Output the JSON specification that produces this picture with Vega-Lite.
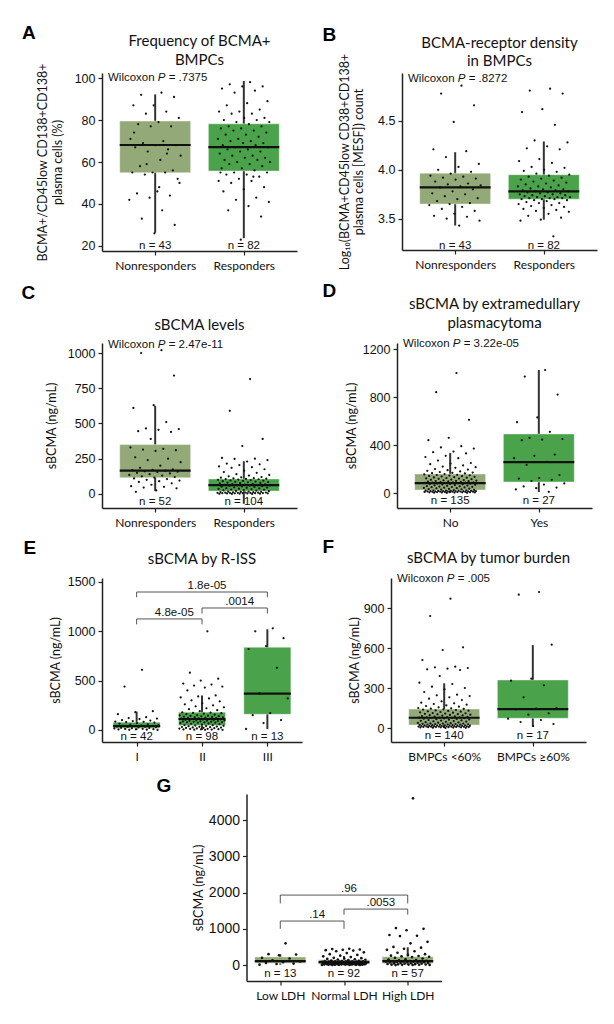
{
  "$schema": "https://vega.github.io/schema/vega-lite/v6.json",
  "background": "white",
  "padding": {"left": 21, "top": 24, "right": 5, "bottom": 5},
  "resolve": {"scale": {"color": "independent", "x": "independent", "y": "independent"}},
  "spacing": 9,
  "vconcat": [
    {
      "spacing": 11,
      "resolve": {"scale": {"color": "independent", "x": "independent", "y": "independent"}},
      "vconcat": [
        {
          "spacing": 25,
          "resolve": {"scale": {"color": "independent", "x": "independent", "y": "independent"}},
          "hconcat": [
            {
              "title": {"text": "A", "orient": "left", "anchor": "end", "angle": 0, "align": "left", "baseline": "top", "frame": "bounds", "offset": 0, "dx": -1, "dy": -10, "font": "Liberation Sans", "fontSize": 19, "fontWeight": "bold", "color": "#000"},
              "vconcat": [
                {
                  "width": 195, "height": 178,
                  "title": {"text": ["Frequency of BCMA+", "BMPCs"], "offset": -5},
                  "layer": [
                    {"data": {"name": "ba"},
                     "transform": [{"calculate": "indexof(['Nonresponders','Responders'], datum.g) + 1", "as": "i"}, {"calculate": "datum.i - 0.4", "as": "x1"}, {"calculate": "datum.i + 0.4", "as": "x2"}],
                     "layer": [
                       {"mark": {"type": "rule", "color": "#333", "strokeWidth": 2},
                        "encoding": {"x": {"field": "i", "type": "quantitative", "scale": {"domain": [0.4, 2.6], "nice": false, "zero": false}, "axis": {"values": [1, 2], "labelExpr": "['Nonresponders','Responders'][datum.value - 1]"}, "title": null},
                                     "y": {"field": "lo", "type": "quantitative", "scale": {"domain": [17.6, 102.4], "nice": false, "zero": false}, "axis": {"values": [20, 40, 60, 80, 100], "titlePadding": 10}, "title": ["BCMA+/CD45low CD138+CD138+", "plasma cells (%)"]},
                                     "y2": {"field": "hi"}}},
                       {"mark": {"type": "rect", "stroke": "#fff", "strokeOpacity": 0.4, "strokeWidth": 1},
                        "encoding": {"x": {"field": "x1", "type": "quantitative"}, "x2": {"field": "x2"}, "y": {"field": "q1", "type": "quantitative"}, "y2": {"field": "q3"},
                                     "color": {"field": "g", "type": "nominal", "scale": {"domain": ["Nonresponders", "Responders"], "range": ["#93aa78", "#4aa24a"]}, "legend": null}}},
                       {"mark": {"type": "rule", "color": "#111", "strokeWidth": 2.2},
                        "encoding": {"x": {"field": "x1", "type": "quantitative"}, "x2": {"field": "x2"}, "y": {"field": "med", "type": "quantitative"}}},
                       {"mark": {"type": "text", "font": "Liberation Sans", "fontSize": 11.5, "baseline": "middle", "color": "#111"},
                        "encoding": {"x": {"field": "i", "type": "quantitative"}, "y": {"datum": 20}, "text": {"field": "n"}}}
                     ]},
                    {"data": {"name": "pa"},
                     "transform": [{"window": [{"op": "row_number", "as": "r"}], "groupby": ["g"]}, {"calculate": "indexof(['Nonresponders','Responders'], datum.g) + 1 + ((datum.r * 0.618034) % 1 - 0.5) * 0.6", "as": "x"}],
                     "mark": {"type": "circle", "size": 5, "color": "#111", "opacity": 1},
                     "encoding": {"x": {"field": "x", "type": "quantitative"}, "y": {"field": "v", "type": "quantitative"}}},
                    {"data": {"values": [{}]}, "mark": {"type": "text", "text": "Wilcoxon", "align": "left", "baseline": "middle", "dx": 6, "font": "Liberation Sans", "fontSize": 11.5, "color": "#111"}, "encoding": {"x": {"datum": 0.4}, "y": {"datum": 100}}},
                    {"data": {"values": [{}]}, "mark": {"type": "text", "text": "P", "fontStyle": "italic", "align": "left", "baseline": "middle", "dx": 55.8, "font": "Liberation Sans", "fontSize": 11.5, "color": "#111"}, "encoding": {"x": {"datum": 0.4}, "y": {"datum": 100}}},
                    {"data": {"values": [{}]}, "mark": {"type": "text", "text": "= .7375", "align": "left", "baseline": "middle", "dx": 66.7, "font": "Liberation Sans", "fontSize": 11.5, "color": "#111"}, "encoding": {"x": {"datum": 0.4}, "y": {"datum": 100}}}
                  ]
                }
              ]
            },
            {
              "title": {"text": "B", "orient": "left", "anchor": "end", "angle": 0, "align": "left", "baseline": "top", "frame": "bounds", "offset": 0, "dx": -2, "dy": -10, "font": "Liberation Sans", "fontSize": 19, "fontWeight": "bold", "color": "#000"},
              "vconcat": [
                {
                  "width": 195, "height": 177,
                  "title": {"text": ["BCMA-receptor density", "in BMPCs"], "offset": -16},
                  "layer": [
                    {"data": {"name": "bb"},
                     "transform": [{"calculate": "indexof(['Nonresponders','Responders'], datum.g) + 1", "as": "i"}, {"calculate": "datum.i - 0.4", "as": "x1"}, {"calculate": "datum.i + 0.4", "as": "x2"}],
                     "layer": [
                       {"mark": {"type": "rule", "color": "#333", "strokeWidth": 2},
                        "encoding": {"x": {"field": "i", "type": "quantitative", "scale": {"domain": [0.4, 2.6], "nice": false, "zero": false}, "axis": {"values": [1, 2], "labelExpr": "['Nonresponders','Responders'][datum.value - 1]"}, "title": null},
                                     "y": {"field": "lo", "type": "quantitative", "scale": {"domain": [3.18, 4.99], "nice": false, "zero": false}, "axis": {"values": [3.5, 4.0, 4.5], "format": ".1f", "titlePadding": 12}, "title": ["Log₁₀(BCMA+CD45low CD38+CD138+", "plasma cells [MESF]) count"]},
                                     "y2": {"field": "hi"}}},
                       {"mark": {"type": "rect", "stroke": "#fff", "strokeOpacity": 0.4, "strokeWidth": 1},
                        "encoding": {"x": {"field": "x1", "type": "quantitative"}, "x2": {"field": "x2"}, "y": {"field": "q1", "type": "quantitative"}, "y2": {"field": "q3"},
                                     "color": {"field": "g", "type": "nominal", "scale": {"domain": ["Nonresponders", "Responders"], "range": ["#93aa78", "#4aa24a"]}, "legend": null}}},
                       {"mark": {"type": "rule", "color": "#111", "strokeWidth": 2.2},
                        "encoding": {"x": {"field": "x1", "type": "quantitative"}, "x2": {"field": "x2"}, "y": {"field": "med", "type": "quantitative"}}},
                       {"mark": {"type": "text", "font": "Liberation Sans", "fontSize": 11.5, "baseline": "middle", "color": "#111"},
                        "encoding": {"x": {"field": "i", "type": "quantitative"}, "y": {"datum": 3.22}, "text": {"field": "n"}}}
                     ]},
                    {"data": {"name": "pb"},
                     "transform": [{"window": [{"op": "row_number", "as": "r"}], "groupby": ["g"]}, {"calculate": "indexof(['Nonresponders','Responders'], datum.g) + 1 + ((datum.r * 0.618034) % 1 - 0.5) * 0.6", "as": "x"}],
                     "mark": {"type": "circle", "size": 5, "color": "#111", "opacity": 1},
                     "encoding": {"x": {"field": "x", "type": "quantitative"}, "y": {"field": "v", "type": "quantitative"}}},
                    {"data": {"values": [{}]}, "mark": {"type": "text", "text": "Wilcoxon", "align": "left", "baseline": "middle", "dx": 6, "font": "Liberation Sans", "fontSize": 11.5, "color": "#111"}, "encoding": {"x": {"datum": 0.4}, "y": {"datum": 4.93}}},
                    {"data": {"values": [{}]}, "mark": {"type": "text", "text": "P", "fontStyle": "italic", "align": "left", "baseline": "middle", "dx": 55.8, "font": "Liberation Sans", "fontSize": 11.5, "color": "#111"}, "encoding": {"x": {"datum": 0.4}, "y": {"datum": 4.93}}},
                    {"data": {"values": [{}]}, "mark": {"type": "text", "text": "= .8272", "align": "left", "baseline": "middle", "dx": 66.7, "font": "Liberation Sans", "fontSize": 11.5, "color": "#111"}, "encoding": {"x": {"datum": 0.4}, "y": {"datum": 4.93}}}
                  ]
                }
              ]
            }
          ]
        },
        {
          "spacing": 25,
          "resolve": {"scale": {"color": "independent", "x": "independent", "y": "independent"}},
          "hconcat": [
            {
              "title": {"text": "C", "orient": "left", "anchor": "end", "angle": 0, "align": "left", "baseline": "top", "frame": "bounds", "offset": 0, "dx": -10, "dy": -15, "font": "Liberation Sans", "fontSize": 19, "fontWeight": "bold", "color": "#000"},
              "vconcat": [
                {
                  "width": 195, "height": 165,
                  "title": {"text": ["", "sBCMA levels"], "offset": 6},
                  "layer": [
                    {"data": {"name": "bc"},
                     "transform": [{"calculate": "indexof(['Nonresponders','Responders'], datum.g) + 1", "as": "i"}, {"calculate": "datum.i - 0.4", "as": "x1"}, {"calculate": "datum.i + 0.4", "as": "x2"}],
                     "layer": [
                       {"mark": {"type": "rule", "color": "#333", "strokeWidth": 2},
                        "encoding": {"x": {"field": "i", "type": "quantitative", "scale": {"domain": [0.4, 2.6], "nice": false, "zero": false}, "axis": {"values": [1, 2], "labelExpr": "['Nonresponders','Responders'][datum.value - 1]"}, "title": null},
                                     "y": {"field": "lo", "type": "quantitative", "scale": {"domain": [-100, 1071], "nice": false, "zero": false}, "axis": {"values": [0, 250, 500, 750, 1000], "format": "d", "titlePadding": 9}, "title": "sBCMA (ng/mL)"},
                                     "y2": {"field": "hi"}}},
                       {"mark": {"type": "rect", "stroke": "#fff", "strokeOpacity": 0.4, "strokeWidth": 1},
                        "encoding": {"x": {"field": "x1", "type": "quantitative"}, "x2": {"field": "x2"}, "y": {"field": "q1", "type": "quantitative"}, "y2": {"field": "q3"},
                                     "color": {"field": "g", "type": "nominal", "scale": {"domain": ["Nonresponders", "Responders"], "range": ["#93aa78", "#4aa24a"]}, "legend": null}}},
                       {"mark": {"type": "rule", "color": "#111", "strokeWidth": 2.2},
                        "encoding": {"x": {"field": "x1", "type": "quantitative"}, "x2": {"field": "x2"}, "y": {"field": "med", "type": "quantitative"}}},
                       {"mark": {"type": "text", "font": "Liberation Sans", "fontSize": 11.5, "baseline": "middle", "color": "#111"},
                        "encoding": {"x": {"field": "i", "type": "quantitative"}, "y": {"datum": -57}, "text": {"field": "n"}}}
                     ]},
                    {"data": {"name": "pc"},
                     "transform": [{"window": [{"op": "row_number", "as": "r"}], "groupby": ["g"]}, {"calculate": "indexof(['Nonresponders','Responders'], datum.g) + 1 + ((datum.r * 0.618034) % 1 - 0.5) * 0.6", "as": "x"}],
                     "mark": {"type": "circle", "size": 5, "color": "#111", "opacity": 1},
                     "encoding": {"x": {"field": "x", "type": "quantitative"}, "y": {"field": "v", "type": "quantitative"}}},
                    {"data": {"values": [{}]}, "mark": {"type": "text", "text": "Wilcoxon", "align": "left", "baseline": "middle", "dx": 6, "font": "Liberation Sans", "fontSize": 11.5, "color": "#111"}, "encoding": {"x": {"datum": 0.4}, "y": {"datum": 1057}}},
                    {"data": {"values": [{}]}, "mark": {"type": "text", "text": "P", "fontStyle": "italic", "align": "left", "baseline": "middle", "dx": 55.8, "font": "Liberation Sans", "fontSize": 11.5, "color": "#111"}, "encoding": {"x": {"datum": 0.4}, "y": {"datum": 1057}}},
                    {"data": {"values": [{}]}, "mark": {"type": "text", "text": "= 2.47e-11", "align": "left", "baseline": "middle", "dx": 66.7, "font": "Liberation Sans", "fontSize": 11.5, "color": "#111"}, "encoding": {"x": {"datum": 0.4}, "y": {"datum": 1057}}}
                  ]
                }
              ]
            },
            {
              "title": {"text": "D", "orient": "left", "anchor": "end", "angle": 0, "align": "left", "baseline": "top", "frame": "bounds", "offset": 0, "dx": -9, "dy": -15, "font": "Liberation Sans", "fontSize": 19, "fontWeight": "bold", "color": "#000"},
              "vconcat": [
                {
                  "width": 195, "height": 165,
                  "title": {"text": ["sBCMA by extramedullary", "plasmacytoma"], "offset": 7},
                  "layer": [
                    {"data": {"name": "bd"},
                     "transform": [{"calculate": "indexof(['No','Yes'], datum.g) + 1", "as": "i"}, {"calculate": "datum.i - 0.4", "as": "x1"}, {"calculate": "datum.i + 0.4", "as": "x2"}],
                     "layer": [
                       {"mark": {"type": "rule", "color": "#333", "strokeWidth": 2},
                        "encoding": {"x": {"field": "i", "type": "quantitative", "scale": {"domain": [0.4, 2.6], "nice": false, "zero": false}, "axis": {"values": [1, 2], "labelExpr": "['No','Yes'][datum.value - 1]"}, "title": null},
                                     "y": {"field": "lo", "type": "quantitative", "scale": {"domain": [-125, 1250], "nice": false, "zero": false}, "axis": {"values": [0, 400, 800, 1200], "format": "d", "titlePadding": 4}, "title": "sBCMA (ng/mL)"},
                                     "y2": {"field": "hi"}}},
                       {"mark": {"type": "rect", "stroke": "#fff", "strokeOpacity": 0.4, "strokeWidth": 1},
                        "encoding": {"x": {"field": "x1", "type": "quantitative"}, "x2": {"field": "x2"}, "y": {"field": "q1", "type": "quantitative"}, "y2": {"field": "q3"},
                                     "color": {"field": "g", "type": "nominal", "scale": {"domain": ["No", "Yes"], "range": ["#93aa78", "#4aa24a"]}, "legend": null}}},
                       {"mark": {"type": "rule", "color": "#111", "strokeWidth": 2.2},
                        "encoding": {"x": {"field": "x1", "type": "quantitative"}, "x2": {"field": "x2"}, "y": {"field": "med", "type": "quantitative"}}},
                       {"mark": {"type": "text", "font": "Liberation Sans", "fontSize": 11.5, "baseline": "middle", "color": "#111"},
                        "encoding": {"x": {"field": "i", "type": "quantitative"}, "y": {"datum": -67}, "text": {"field": "n"}}}
                     ]},
                    {"data": {"name": "pd"},
                     "transform": [{"window": [{"op": "row_number", "as": "r"}], "groupby": ["g"]}, {"calculate": "indexof(['No','Yes'], datum.g) + 1 + ((datum.r * 0.618034) % 1 - 0.5) * 0.6", "as": "x"}],
                     "mark": {"type": "circle", "size": 5, "color": "#111", "opacity": 1},
                     "encoding": {"x": {"field": "x", "type": "quantitative"}, "y": {"field": "v", "type": "quantitative"}}},
                    {"data": {"values": [{}]}, "mark": {"type": "text", "text": "Wilcoxon", "align": "left", "baseline": "middle", "dx": 6, "font": "Liberation Sans", "fontSize": 11.5, "color": "#111"}, "encoding": {"x": {"datum": 0.4}, "y": {"datum": 1242}}},
                    {"data": {"values": [{}]}, "mark": {"type": "text", "text": "P", "fontStyle": "italic", "align": "left", "baseline": "middle", "dx": 55.8, "font": "Liberation Sans", "fontSize": 11.5, "color": "#111"}, "encoding": {"x": {"datum": 0.4}, "y": {"datum": 1242}}},
                    {"data": {"values": [{}]}, "mark": {"type": "text", "text": "= 3.22e-05", "align": "left", "baseline": "middle", "dx": 66.7, "font": "Liberation Sans", "fontSize": 11.5, "color": "#111"}, "encoding": {"x": {"datum": 0.4}, "y": {"datum": 1242}}}
                  ]
                }
              ]
            }
          ]
        }
      ]
    },
    {
      "spacing": 15,
      "center": true,
      "resolve": {"scale": {"color": "independent", "x": "independent", "y": "independent"}},
      "vconcat": [
        {
          "spacing": 20,
          "resolve": {"scale": {"color": "independent", "x": "independent", "y": "independent"}},
          "hconcat": [
            {
              "title": {"text": "E", "orient": "left", "anchor": "end", "angle": 0, "align": "left", "baseline": "top", "frame": "bounds", "offset": 0, "dx": -13, "dy": -13, "font": "Liberation Sans", "fontSize": 19, "fontWeight": "bold", "color": "#000"},
              "vconcat": [
                {
                  "width": 200, "height": 164,
                  "title": {"text": "sBCMA by R-ISS", "offset": 9},
                  "layer": [
                    {"data": {"name": "be"},
                     "transform": [{"calculate": "indexof(['I','II','III'], datum.g) + 1", "as": "i"}, {"calculate": "datum.i - 0.36", "as": "x1"}, {"calculate": "datum.i + 0.36", "as": "x2"}],
                     "layer": [
                       {"mark": {"type": "rule", "color": "#333", "strokeWidth": 2},
                        "encoding": {"x": {"field": "i", "type": "quantitative", "scale": {"domain": [0.47, 3.53], "nice": false, "zero": false}, "axis": {"values": [1, 2, 3], "labelExpr": "['I','II','III'][datum.value - 1]"}, "title": null},
                                     "y": {"field": "lo", "type": "quantitative", "scale": {"domain": [-122, 1540], "nice": false, "zero": false}, "axis": {"values": [0, 500, 1000, 1500], "format": "d", "titlePadding": 5}, "title": "sBCMA (ng/mL)"},
                                     "y2": {"field": "hi"}}},
                       {"mark": {"type": "rect", "color": "#4aa24a", "stroke": "#fff", "strokeOpacity": 0.4, "strokeWidth": 1},
                        "encoding": {"x": {"field": "x1", "type": "quantitative"}, "x2": {"field": "x2"}, "y": {"field": "q1", "type": "quantitative"}, "y2": {"field": "q3"}}},
                       {"mark": {"type": "rule", "color": "#111", "strokeWidth": 2.2},
                        "encoding": {"x": {"field": "x1", "type": "quantitative"}, "x2": {"field": "x2"}, "y": {"field": "med", "type": "quantitative"}}},
                       {"mark": {"type": "text", "font": "Liberation Sans", "fontSize": 11.5, "baseline": "middle", "color": "#111"},
                        "encoding": {"x": {"field": "i", "type": "quantitative"}, "y": {"datum": -71}, "text": {"field": "n"}}}
                     ]},
                    {"data": {"name": "pe"},
                     "transform": [{"window": [{"op": "row_number", "as": "r"}], "groupby": ["g"]}, {"calculate": "indexof(['I','II','III'], datum.g) + 1 + ((datum.r * 0.618034) % 1 - 0.5) * 0.7", "as": "x"}],
                     "mark": {"type": "circle", "size": 5, "color": "#111", "opacity": 1},
                     "encoding": {"x": {"field": "x", "type": "quantitative"}, "y": {"field": "v", "type": "quantitative"}}},
                    {"data": {"name": "ee"},
                     "transform": [{"calculate": "indexof(['I','II','III'], datum.a) + 1", "as": "ia"}, {"calculate": "indexof(['I','II','III'], datum.b) + 1", "as": "ib"}, {"calculate": "(datum.ia + datum.ib) / 2", "as": "im"}],
                     "layer": [
                       {"mark": {"type": "rule", "color": "#555", "strokeWidth": 1},
                        "encoding": {"x": {"field": "ia", "type": "quantitative"}, "x2": {"field": "ib"}, "y": {"field": "y", "type": "quantitative"}}},
                       {"mark": {"type": "rule", "color": "#555", "strokeWidth": 1},
                        "encoding": {"x": {"field": "ia", "type": "quantitative"}, "y": {"field": "y0", "type": "quantitative"}, "y2": {"field": "y"}}},
                       {"mark": {"type": "rule", "color": "#555", "strokeWidth": 1},
                        "encoding": {"x": {"field": "ib", "type": "quantitative"}, "y": {"field": "y0", "type": "quantitative"}, "y2": {"field": "y"}}},
                       {"mark": {"type": "text", "font": "Liberation Sans", "fontSize": 11.5, "baseline": "bottom", "dy": -1, "dx": 5, "color": "#111"},
                        "encoding": {"x": {"field": "im", "type": "quantitative"}, "y": {"field": "y", "type": "quantitative"}, "text": {"field": "t"}}}
                     ]}
                  ]
                }
              ]
            },
            {
              "title": {"text": "F", "orient": "left", "anchor": "end", "angle": 0, "align": "left", "baseline": "top", "frame": "bounds", "offset": 0, "dx": -14, "dy": -13, "font": "Liberation Sans", "fontSize": 19, "fontWeight": "bold", "color": "#000"},
              "vconcat": [
                {
                  "width": 195, "height": 164,
                  "title": {"text": "sBCMA by tumor burden", "offset": 7},
                  "layer": [
                    {"data": {"name": "bf"},
                     "transform": [{"calculate": "indexof(['BMPCs <60%','BMPCs ≥60%'], datum.g) + 1", "as": "i"}, {"calculate": "datum.i - 0.4", "as": "x1"}, {"calculate": "datum.i + 0.4", "as": "x2"}],
                     "layer": [
                       {"mark": {"type": "rule", "color": "#333", "strokeWidth": 2},
                        "encoding": {"x": {"field": "i", "type": "quantitative", "scale": {"domain": [0.4, 2.6], "nice": false, "zero": false}, "axis": {"values": [1, 2], "labelExpr": "['BMPCs <60%','BMPCs ≥60%'][datum.value - 1]"}, "title": null},
                                     "y": {"field": "lo", "type": "quantitative", "scale": {"domain": [-105, 1125], "nice": false, "zero": false}, "axis": {"values": [0, 300, 600, 900], "format": "d", "titlePadding": 2}, "title": "sBCMA (ng/mL)"},
                                     "y2": {"field": "hi"}}},
                       {"mark": {"type": "rect", "stroke": "#fff", "strokeOpacity": 0.4, "strokeWidth": 1},
                        "encoding": {"x": {"field": "x1", "type": "quantitative"}, "x2": {"field": "x2"}, "y": {"field": "q1", "type": "quantitative"}, "y2": {"field": "q3"},
                                     "color": {"field": "g", "type": "nominal", "scale": {"domain": ["BMPCs <60%", "BMPCs ≥60%"], "range": ["#93aa78", "#4aa24a"]}, "legend": null}}},
                       {"mark": {"type": "rule", "color": "#111", "strokeWidth": 2.2},
                        "encoding": {"x": {"field": "x1", "type": "quantitative"}, "x2": {"field": "x2"}, "y": {"field": "med", "type": "quantitative"}}},
                       {"mark": {"type": "text", "font": "Liberation Sans", "fontSize": 11.5, "baseline": "middle", "color": "#111"},
                        "encoding": {"x": {"field": "i", "type": "quantitative"}, "y": {"datum": -60}, "text": {"field": "n"}}}
                     ]},
                    {"data": {"name": "pf"},
                     "transform": [{"window": [{"op": "row_number", "as": "r"}], "groupby": ["g"]}, {"calculate": "indexof(['BMPCs <60%','BMPCs ≥60%'], datum.g) + 1 + ((datum.r * 0.618034) % 1 - 0.5) * 0.6", "as": "x"}],
                     "mark": {"type": "circle", "size": 5, "color": "#111", "opacity": 1},
                     "encoding": {"x": {"field": "x", "type": "quantitative"}, "y": {"field": "v", "type": "quantitative"}}},
                    {"data": {"values": [{}]}, "mark": {"type": "text", "text": "Wilcoxon", "align": "left", "baseline": "middle", "dx": 6, "font": "Liberation Sans", "fontSize": 11.5, "color": "#111"}, "encoding": {"x": {"datum": 0.4}, "y": {"datum": 1118}}},
                    {"data": {"values": [{}]}, "mark": {"type": "text", "text": "P", "fontStyle": "italic", "align": "left", "baseline": "middle", "dx": 55.8, "font": "Liberation Sans", "fontSize": 11.5, "color": "#111"}, "encoding": {"x": {"datum": 0.4}, "y": {"datum": 1118}}},
                    {"data": {"values": [{}]}, "mark": {"type": "text", "text": "= .005", "align": "left", "baseline": "middle", "dx": 66.7, "font": "Liberation Sans", "fontSize": 11.5, "color": "#111"}, "encoding": {"x": {"datum": 0.4}, "y": {"datum": 1118}}}
                  ]
                }
              ]
            }
          ]
        },
        {
          "title": {"text": "G", "orient": "left", "anchor": "end", "angle": 0, "align": "left", "baseline": "top", "frame": "bounds", "offset": 0, "dx": -21, "dy": -17, "font": "Liberation Sans", "fontSize": 19, "fontWeight": "bold", "color": "#000"},
          "vconcat": [
            {
              "width": 195, "height": 187,
              "layer": [
                {"data": {"name": "bg"},
                 "transform": [{"calculate": "indexof(['Low LDH','Normal LDH','High LDH'], datum.g) + 1", "as": "i"}, {"calculate": "datum.i - 0.4", "as": "x1"}, {"calculate": "datum.i + 0.4", "as": "x2"}],
                 "layer": [
                   {"mark": {"type": "rule", "color": "#333", "strokeWidth": 2},
                    "encoding": {"x": {"field": "i", "type": "quantitative", "scale": {"domain": [0.47, 3.53], "nice": false, "zero": false}, "axis": {"values": [1, 2, 3], "labelExpr": "['Low LDH','Normal LDH','High LDH'][datum.value - 1]"}, "title": null},
                                 "y": {"field": "lo", "type": "quantitative", "scale": {"domain": [-440, 4720], "nice": false, "zero": false}, "axis": {"values": [0, 1000, 2000, 3000, 4000], "format": "d", "titlePadding": 3, "labelFontSize": 14}, "title": "sBCMA (ng/mL)"},
                                 "y2": {"field": "hi"}}},
                   {"mark": {"type": "rect", "color": "#93aa78", "stroke": "#fff", "strokeOpacity": 0.4, "strokeWidth": 1},
                    "encoding": {"x": {"field": "x1", "type": "quantitative"}, "x2": {"field": "x2"}, "y": {"field": "q1", "type": "quantitative"}, "y2": {"field": "q3"}}},
                   {"mark": {"type": "rule", "color": "#111", "strokeWidth": 2.2},
                    "encoding": {"x": {"field": "x1", "type": "quantitative"}, "x2": {"field": "x2"}, "y": {"field": "med", "type": "quantitative"}}},
                   {"mark": {"type": "text", "font": "Liberation Sans", "fontSize": 11.5, "baseline": "middle", "color": "#111"},
                    "encoding": {"x": {"field": "i", "type": "quantitative"}, "y": {"datum": -248}, "text": {"field": "n"}}}
                 ]},
                {"data": {"name": "pg"},
                 "transform": [{"window": [{"op": "row_number", "as": "r"}], "groupby": ["g"]}, {"calculate": "indexof(['Low LDH','Normal LDH','High LDH'], datum.g) + 1 + ((datum.r * 0.618034) % 1 - 0.5) * 0.7", "as": "x"}],
                 "mark": {"type": "circle", "size": 7, "color": "#111", "opacity": 1},
                 "encoding": {"x": {"field": "x", "type": "quantitative"}, "y": {"field": "v", "type": "quantitative"}}},
                {"data": {"name": "eg"},
                 "transform": [{"calculate": "indexof(['Low LDH','Normal LDH','High LDH'], datum.a) + 1", "as": "ia"}, {"calculate": "indexof(['Low LDH','Normal LDH','High LDH'], datum.b) + 1", "as": "ib"}, {"calculate": "(datum.ia + datum.ib) / 2", "as": "im"}],
                 "layer": [
                   {"mark": {"type": "rule", "color": "#555", "strokeWidth": 1},
                    "encoding": {"x": {"field": "ia", "type": "quantitative"}, "x2": {"field": "ib"}, "y": {"field": "y", "type": "quantitative"}}},
                   {"mark": {"type": "rule", "color": "#555", "strokeWidth": 1},
                    "encoding": {"x": {"field": "ia", "type": "quantitative"}, "y": {"field": "y0", "type": "quantitative"}, "y2": {"field": "y"}}},
                   {"mark": {"type": "rule", "color": "#555", "strokeWidth": 1},
                    "encoding": {"x": {"field": "ib", "type": "quantitative"}, "y": {"field": "y0", "type": "quantitative"}, "y2": {"field": "y"}}},
                   {"mark": {"type": "text", "font": "Liberation Sans", "fontSize": 11.5, "baseline": "bottom", "dy": -1, "dx": 5, "color": "#111"},
                    "encoding": {"x": {"field": "im", "type": "quantitative"}, "y": {"field": "y", "type": "quantitative"}, "text": {"field": "t"}}}
                 ]}
              ]
            }
          ]
        }
      ]
    }
  ],
  "datasets": {
    "ba": [
      {"g": "Nonresponders", "lo": 26.3, "q1": 54.9, "med": 68.1, "q3": 79.5, "hi": 92.2, "n": "n = 43"},
      {"g": "Responders", "lo": 23.7, "q1": 55.7, "med": 67.1, "q3": 78.2, "hi": 98.6, "n": "n = 82"}
    ],
    "bb": [
      {"g": "Nonresponders", "lo": 3.43, "q1": 3.65, "med": 3.82, "q3": 3.966, "hi": 4.18, "n": "n = 43"},
      {"g": "Responders", "lo": 3.49, "q1": 3.70, "med": 3.78, "q3": 3.95, "hi": 4.29, "n": "n = 82"}
    ],
    "bc": [
      {"g": "Nonresponders", "lo": 20, "q1": 115, "med": 165, "q3": 350, "hi": 625, "n": "n = 52"},
      {"g": "Responders", "lo": -70, "q1": 20, "med": 62, "q3": 106, "hi": 232, "n": "n = 104"}
    ],
    "bd": [
      {"g": "No", "lo": 0, "q1": 25, "med": 83, "q3": 158, "hi": 333, "n": "n = 135"},
      {"g": "Yes", "lo": 8, "q1": 92, "med": 258, "q3": 492, "hi": 1025, "n": "n = 27"}
    ],
    "be": [
      {"g": "I", "lo": 0, "q1": 17, "med": 40, "q3": 78, "hi": 186, "n": "n = 42"},
      {"g": "II", "lo": 0, "q1": 44, "med": 111, "q3": 180, "hi": 348, "n": "n = 98"},
      {"g": "III", "lo": 10, "q1": 159, "med": 368, "q3": 838, "hi": 1020, "n": "n = 13"}
    ],
    "ee": [
      {"a": "I", "b": "III", "y": 1398, "y0": 1345, "t": "1.8e-05"},
      {"a": "II", "b": "III", "y": 1236, "y0": 1180, "t": ".0014"},
      {"a": "I", "b": "II", "y": 1125, "y0": 1070, "t": "4.8e-05"}
    ],
    "bf": [
      {"g": "BMPCs <60%", "lo": 0, "q1": 22, "med": 77, "q3": 142, "hi": 335, "n": "n = 140"},
      {"g": "BMPCs ≥60%", "lo": 10, "q1": 73, "med": 142, "q3": 360, "hi": 622, "n": "n = 17"}
    ],
    "bg": [
      {"g": "Low LDH", "lo": 10, "q1": 47, "med": 110, "q3": 225, "hi": 300, "n": "n = 13"},
      {"g": "Normal LDH", "lo": 0, "q1": 27, "med": 80, "q3": 146, "hi": 250, "n": "n = 92"},
      {"g": "High LDH", "lo": 0, "q1": 40, "med": 110, "q3": 230, "hi": 490, "n": "n = 57"}
    ],
    "eg": [
      {"a": "Low LDH", "b": "High LDH", "y": 1931, "y0": 1700, "t": ".96"},
      {"a": "Normal LDH", "b": "High LDH", "y": 1545, "y0": 1390, "t": ".0053"},
      {"a": "Low LDH", "b": "Normal LDH", "y": 1214, "y0": 1000, "t": ".14"}
    ],
    "pa": [
      {"g":"Nonresponders","v":93},{"g":"Nonresponders","v":92},{"g":"Nonresponders","v":91},{"g":"Nonresponders","v":87},{"g":"Nonresponders","v":87},{"g":"Nonresponders","v":84},{"g":"Nonresponders","v":83},{"g":"Nonresponders","v":81},{"g":"Nonresponders","v":79},{"g":"Nonresponders","v":78},
      {"g":"Nonresponders","v":77},{"g":"Nonresponders","v":77},{"g":"Nonresponders","v":71},{"g":"Nonresponders","v":70},{"g":"Nonresponders","v":69},{"g":"Nonresponders","v":68},{"g":"Nonresponders","v":68},{"g":"Nonresponders","v":67},{"g":"Nonresponders","v":66},{"g":"Nonresponders","v":65},
      {"g":"Nonresponders","v":63},{"g":"Nonresponders","v":61},{"g":"Nonresponders","v":58},{"g":"Nonresponders","v":56},{"g":"Nonresponders","v":55},{"g":"Nonresponders","v":55},{"g":"Nonresponders","v":55},{"g":"Nonresponders","v":54},{"g":"Nonresponders","v":52},{"g":"Nonresponders","v":46},
      {"g":"Nonresponders","v":45},{"g":"Nonresponders","v":44},{"g":"Nonresponders","v":43},{"g":"Nonresponders","v":42},{"g":"Nonresponders","v":37},{"g":"Nonresponders","v":33},{"g":"Nonresponders","v":30},{"g":"Nonresponders","v":26},{"g":"Nonresponders","v":74},{"g":"Nonresponders","v":64},
      {"g":"Nonresponders","v":59},{"g":"Nonresponders","v":50},{"g":"Nonresponders","v":48},
      {"g":"Responders","v":98},{"g":"Responders","v":97},{"g":"Responders","v":96},{"g":"Responders","v":96},{"g":"Responders","v":95},{"g":"Responders","v":94},{"g":"Responders","v":93},{"g":"Responders","v":89},{"g":"Responders","v":88},{"g":"Responders","v":87},
      {"g":"Responders","v":85},{"g":"Responders","v":84},{"g":"Responders","v":84},{"g":"Responders","v":83},{"g":"Responders","v":83},{"g":"Responders","v":81},{"g":"Responders","v":81},{"g":"Responders","v":80},{"g":"Responders","v":80},{"g":"Responders","v":79},
      {"g":"Responders","v":79},{"g":"Responders","v":78},{"g":"Responders","v":77},{"g":"Responders","v":77},{"g":"Responders","v":76},{"g":"Responders","v":76},{"g":"Responders","v":75},{"g":"Responders","v":75},{"g":"Responders","v":74},{"g":"Responders","v":73},
      {"g":"Responders","v":73},{"g":"Responders","v":72},{"g":"Responders","v":71},{"g":"Responders","v":71},{"g":"Responders","v":70},{"g":"Responders","v":70},{"g":"Responders","v":69},{"g":"Responders","v":69},{"g":"Responders","v":68},{"g":"Responders","v":68},
      {"g":"Responders","v":67},{"g":"Responders","v":67},{"g":"Responders","v":66},{"g":"Responders","v":66},{"g":"Responders","v":65},{"g":"Responders","v":65},{"g":"Responders","v":64},{"g":"Responders","v":63},{"g":"Responders","v":63},{"g":"Responders","v":62},
      {"g":"Responders","v":62},{"g":"Responders","v":61},{"g":"Responders","v":61},{"g":"Responders","v":60},{"g":"Responders","v":60},{"g":"Responders","v":59},{"g":"Responders","v":59},{"g":"Responders","v":58},{"g":"Responders","v":57},{"g":"Responders","v":57},
      {"g":"Responders","v":56},{"g":"Responders","v":55},{"g":"Responders","v":55},{"g":"Responders","v":54},{"g":"Responders","v":54},{"g":"Responders","v":53},{"g":"Responders","v":52},{"g":"Responders","v":51},{"g":"Responders","v":51},{"g":"Responders","v":50},
      {"g":"Responders","v":48},{"g":"Responders","v":47},{"g":"Responders","v":46},{"g":"Responders","v":43},{"g":"Responders","v":42},{"g":"Responders","v":41},{"g":"Responders","v":39},{"g":"Responders","v":37},{"g":"Responders","v":34},{"g":"Responders","v":23},
      {"g":"Responders","v":55},{"g":"Responders","v":53}
    ],
    "pb": [
      {"g":"Nonresponders","v":4.86},{"g":"Nonresponders","v":4.78},{"g":"Nonresponders","v":4.66},{"g":"Nonresponders","v":4.49},{"g":"Nonresponders","v":4.21},{"g":"Nonresponders","v":4.19},{"g":"Nonresponders","v":4.13},{"g":"Nonresponders","v":4.06},{"g":"Nonresponders","v":4.03},{"g":"Nonresponders","v":4.00},
      {"g":"Nonresponders","v":3.98},{"g":"Nonresponders","v":3.96},{"g":"Nonresponders","v":3.94},{"g":"Nonresponders","v":3.93},{"g":"Nonresponders","v":3.92},{"g":"Nonresponders","v":3.91},{"g":"Nonresponders","v":3.90},{"g":"Nonresponders","v":3.88},{"g":"Nonresponders","v":3.86},{"g":"Nonresponders","v":3.85},
      {"g":"Nonresponders","v":3.84},{"g":"Nonresponders","v":3.83},{"g":"Nonresponders","v":3.82},{"g":"Nonresponders","v":3.80},{"g":"Nonresponders","v":3.78},{"g":"Nonresponders","v":3.76},{"g":"Nonresponders","v":3.75},{"g":"Nonresponders","v":3.73},{"g":"Nonresponders","v":3.71},{"g":"Nonresponders","v":3.70},
      {"g":"Nonresponders","v":3.68},{"g":"Nonresponders","v":3.66},{"g":"Nonresponders","v":3.65},{"g":"Nonresponders","v":3.64},{"g":"Nonresponders","v":3.62},{"g":"Nonresponders","v":3.60},{"g":"Nonresponders","v":3.58},{"g":"Nonresponders","v":3.55},{"g":"Nonresponders","v":3.53},{"g":"Nonresponders","v":3.52},
      {"g":"Nonresponders","v":3.50},{"g":"Nonresponders","v":3.48},{"g":"Nonresponders","v":3.43},
      {"g":"Responders","v":4.83},{"g":"Responders","v":4.81},{"g":"Responders","v":4.78},{"g":"Responders","v":4.62},{"g":"Responders","v":4.59},{"g":"Responders","v":4.46},{"g":"Responders","v":4.30},{"g":"Responders","v":4.28},{"g":"Responders","v":4.24},{"g":"Responders","v":4.22},
      {"g":"Responders","v":4.21},{"g":"Responders","v":4.11},{"g":"Responders","v":4.09},{"g":"Responders","v":4.07},{"g":"Responders","v":4.03},{"g":"Responders","v":4.02},{"g":"Responders","v":4.00},{"g":"Responders","v":3.99},{"g":"Responders","v":3.98},{"g":"Responders","v":3.96},
      {"g":"Responders","v":3.95},{"g":"Responders","v":3.94},{"g":"Responders","v":3.93},{"g":"Responders","v":3.92},{"g":"Responders","v":3.91},{"g":"Responders","v":3.90},{"g":"Responders","v":3.89},{"g":"Responders","v":3.88},{"g":"Responders","v":3.87},{"g":"Responders","v":3.86},
      {"g":"Responders","v":3.85},{"g":"Responders","v":3.84},{"g":"Responders","v":3.83},{"g":"Responders","v":3.83},{"g":"Responders","v":3.82},{"g":"Responders","v":3.81},{"g":"Responders","v":3.80},{"g":"Responders","v":3.80},{"g":"Responders","v":3.79},{"g":"Responders","v":3.79},
      {"g":"Responders","v":3.78},{"g":"Responders","v":3.78},{"g":"Responders","v":3.77},{"g":"Responders","v":3.77},{"g":"Responders","v":3.76},{"g":"Responders","v":3.76},{"g":"Responders","v":3.75},{"g":"Responders","v":3.75},{"g":"Responders","v":3.74},{"g":"Responders","v":3.74},
      {"g":"Responders","v":3.73},{"g":"Responders","v":3.73},{"g":"Responders","v":3.72},{"g":"Responders","v":3.72},{"g":"Responders","v":3.72},{"g":"Responders","v":3.71},{"g":"Responders","v":3.71},{"g":"Responders","v":3.71},{"g":"Responders","v":3.70},{"g":"Responders","v":3.70},
      {"g":"Responders","v":3.70},{"g":"Responders","v":3.69},{"g":"Responders","v":3.69},{"g":"Responders","v":3.68},{"g":"Responders","v":3.67},{"g":"Responders","v":3.66},{"g":"Responders","v":3.66},{"g":"Responders","v":3.65},{"g":"Responders","v":3.64},{"g":"Responders","v":3.63},
      {"g":"Responders","v":3.62},{"g":"Responders","v":3.61},{"g":"Responders","v":3.60},{"g":"Responders","v":3.59},{"g":"Responders","v":3.58},{"g":"Responders","v":3.57},{"g":"Responders","v":3.55},{"g":"Responders","v":3.53},{"g":"Responders","v":3.51},{"g":"Responders","v":3.49},
      {"g":"Responders","v":3.48},{"g":"Responders","v":3.32}
    ],
    "pc": [
      {"g":"Nonresponders","v":1020},{"g":"Nonresponders","v":1000},{"g":"Nonresponders","v":840},{"g":"Nonresponders","v":630},{"g":"Nonresponders","v":610},{"g":"Nonresponders","v":510},{"g":"Nonresponders","v":465},{"g":"Nonresponders","v":460},{"g":"Nonresponders","v":455},{"g":"Nonresponders","v":445},
      {"g":"Nonresponders","v":440},{"g":"Nonresponders","v":390},{"g":"Nonresponders","v":330},{"g":"Nonresponders","v":320},{"g":"Nonresponders","v":315},{"g":"Nonresponders","v":310},{"g":"Nonresponders","v":305},{"g":"Nonresponders","v":260},{"g":"Nonresponders","v":250},{"g":"Nonresponders","v":240},
      {"g":"Nonresponders","v":225},{"g":"Nonresponders","v":200},{"g":"Nonresponders","v":185},{"g":"Nonresponders","v":175},{"g":"Nonresponders","v":170},{"g":"Nonresponders","v":168},{"g":"Nonresponders","v":165},{"g":"Nonresponders","v":160},{"g":"Nonresponders","v":158},{"g":"Nonresponders","v":155},
      {"g":"Nonresponders","v":150},{"g":"Nonresponders","v":145},{"g":"Nonresponders","v":140},{"g":"Nonresponders","v":135},{"g":"Nonresponders","v":130},{"g":"Nonresponders","v":125},{"g":"Nonresponders","v":120},{"g":"Nonresponders","v":115},{"g":"Nonresponders","v":110},{"g":"Nonresponders","v":105},
      {"g":"Nonresponders","v":100},{"g":"Nonresponders","v":95},{"g":"Nonresponders","v":90},{"g":"Nonresponders","v":85},{"g":"Nonresponders","v":75},{"g":"Nonresponders","v":65},{"g":"Nonresponders","v":55},{"g":"Nonresponders","v":50},{"g":"Nonresponders","v":45},{"g":"Nonresponders","v":40},
      {"g":"Nonresponders","v":25},{"g":"Nonresponders","v":15},
      {"g":"Responders","v":815},{"g":"Responders","v":590},{"g":"Responders","v":390},{"g":"Responders","v":340},{"g":"Responders","v":255},{"g":"Responders","v":250},{"g":"Responders","v":248},{"g":"Responders","v":240},{"g":"Responders","v":230},{"g":"Responders","v":215},
      {"g":"Responders","v":210},{"g":"Responders","v":205},{"g":"Responders","v":195},{"g":"Responders","v":190},{"g":"Responders","v":185},{"g":"Responders","v":175},{"g":"Responders","v":165},{"g":"Responders","v":155},{"g":"Responders","v":150},{"g":"Responders","v":140},
      {"g":"Responders","v":135},{"g":"Responders","v":130},{"g":"Responders","v":125},{"g":"Responders","v":120},{"g":"Responders","v":118},{"g":"Responders","v":115},{"g":"Responders","v":112},{"g":"Responders","v":110},{"g":"Responders","v":108},{"g":"Responders","v":106},
      {"g":"Responders","v":105},{"g":"Responders","v":104},{"g":"Responders","v":102},{"g":"Responders","v":100},{"g":"Responders","v":98},{"g":"Responders","v":96},{"g":"Responders","v":94},{"g":"Responders","v":92},{"g":"Responders","v":90},{"g":"Responders","v":88},
      {"g":"Responders","v":86},{"g":"Responders","v":84},{"g":"Responders","v":82},{"g":"Responders","v":80},{"g":"Responders","v":78},{"g":"Responders","v":76},{"g":"Responders","v":74},{"g":"Responders","v":72},{"g":"Responders","v":70},{"g":"Responders","v":68},
      {"g":"Responders","v":66},{"g":"Responders","v":64},{"g":"Responders","v":62},{"g":"Responders","v":61},{"g":"Responders","v":60},{"g":"Responders","v":59},{"g":"Responders","v":57},{"g":"Responders","v":55},{"g":"Responders","v":53},{"g":"Responders","v":51},
      {"g":"Responders","v":49},{"g":"Responders","v":47},{"g":"Responders","v":45},{"g":"Responders","v":43},{"g":"Responders","v":41},{"g":"Responders","v":39},{"g":"Responders","v":37},{"g":"Responders","v":35},{"g":"Responders","v":33},{"g":"Responders","v":31},
      {"g":"Responders","v":29},{"g":"Responders","v":27},{"g":"Responders","v":25},{"g":"Responders","v":23},{"g":"Responders","v":21},{"g":"Responders","v":19},{"g":"Responders","v":17},{"g":"Responders","v":16},{"g":"Responders","v":15},{"g":"Responders","v":14},
      {"g":"Responders","v":13},{"g":"Responders","v":12},{"g":"Responders","v":11},{"g":"Responders","v":10},{"g":"Responders","v":10},{"g":"Responders","v":9},{"g":"Responders","v":9},{"g":"Responders","v":8},{"g":"Responders","v":8},{"g":"Responders","v":7},
      {"g":"Responders","v":7},{"g":"Responders","v":6},{"g":"Responders","v":6},{"g":"Responders","v":5},{"g":"Responders","v":5},{"g":"Responders","v":4},{"g":"Responders","v":4},{"g":"Responders","v":3},{"g":"Responders","v":3},{"g":"Responders","v":2},
      {"g":"Responders","v":2},{"g":"Responders","v":1},{"g":"Responders","v":0},{"g":"Responders","v":0}
    ],
    "pd": [
      {"g":"No","v":1000},{"g":"No","v":840},{"g":"No","v":610},{"g":"No","v":460},{"g":"No","v":440},{"g":"No","v":390},{"g":"No","v":380},{"g":"No","v":370},{"g":"No","v":345},{"g":"No","v":340},
      {"g":"No","v":330},{"g":"No","v":310},{"g":"No","v":300},{"g":"No","v":290},{"g":"No","v":270},{"g":"No","v":250},{"g":"No","v":245},{"g":"No","v":240},{"g":"No","v":230},{"g":"No","v":220},
      {"g":"No","v":215},{"g":"No","v":210},{"g":"No","v":200},{"g":"No","v":195},{"g":"No","v":190},{"g":"No","v":185},{"g":"No","v":180},{"g":"No","v":175},{"g":"No","v":170},{"g":"No","v":168},
      {"g":"No","v":165},{"g":"No","v":163},{"g":"No","v":158},{"g":"No","v":155},{"g":"No","v":152},{"g":"No","v":150},{"g":"No","v":147},{"g":"No","v":145},{"g":"No","v":142},{"g":"No","v":140},
      {"g":"No","v":138},{"g":"No","v":135},{"g":"No","v":132},{"g":"No","v":130},{"g":"No","v":128},{"g":"No","v":125},{"g":"No","v":122},{"g":"No","v":120},{"g":"No","v":118},{"g":"No","v":115},
      {"g":"No","v":112},{"g":"No","v":110},{"g":"No","v":108},{"g":"No","v":106},{"g":"No","v":104},{"g":"No","v":102},{"g":"No","v":100},{"g":"No","v":98},{"g":"No","v":96},{"g":"No","v":94},
      {"g":"No","v":92},{"g":"No","v":90},{"g":"No","v":89},{"g":"No","v":88},{"g":"No","v":87},{"g":"No","v":86},{"g":"No","v":85},{"g":"No","v":84},{"g":"No","v":82},{"g":"No","v":80},
      {"g":"No","v":78},{"g":"No","v":76},{"g":"No","v":74},{"g":"No","v":72},{"g":"No","v":70},{"g":"No","v":68},{"g":"No","v":66},{"g":"No","v":64},{"g":"No","v":62},{"g":"No","v":60},
      {"g":"No","v":58},{"g":"No","v":56},{"g":"No","v":54},{"g":"No","v":52},{"g":"No","v":50},{"g":"No","v":48},{"g":"No","v":46},{"g":"No","v":44},{"g":"No","v":42},{"g":"No","v":40},
      {"g":"No","v":38},{"g":"No","v":36},{"g":"No","v":34},{"g":"No","v":32},{"g":"No","v":30},{"g":"No","v":28},{"g":"No","v":26},{"g":"No","v":24},{"g":"No","v":22},{"g":"No","v":21},
      {"g":"No","v":20},{"g":"No","v":19},{"g":"No","v":19},{"g":"No","v":18},{"g":"No","v":18},{"g":"No","v":17},{"g":"No","v":17},{"g":"No","v":16},{"g":"No","v":16},{"g":"No","v":15},
      {"g":"No","v":15},{"g":"No","v":14},{"g":"No","v":14},{"g":"No","v":13},{"g":"No","v":13},{"g":"No","v":12},{"g":"No","v":12},{"g":"No","v":11},{"g":"No","v":11},{"g":"No","v":10},
      {"g":"No","v":10},{"g":"No","v":9},{"g":"No","v":9},{"g":"No","v":8},{"g":"No","v":8},{"g":"No","v":7},{"g":"No","v":7},{"g":"No","v":6},{"g":"No","v":6},{"g":"No","v":5},
      {"g":"No","v":5},{"g":"No","v":4},{"g":"No","v":3},{"g":"No","v":2},{"g":"No","v":1},
      {"g":"Yes","v":1025},{"g":"Yes","v":970},{"g":"Yes","v":820},{"g":"Yes","v":630},{"g":"Yes","v":590},{"g":"Yes","v":510},{"g":"Yes","v":460},{"g":"Yes","v":450},{"g":"Yes","v":445},{"g":"Yes","v":440},
      {"g":"Yes","v":320},{"g":"Yes","v":310},{"g":"Yes","v":290},{"g":"Yes","v":260},{"g":"Yes","v":235},{"g":"Yes","v":150},{"g":"Yes","v":125},{"g":"Yes","v":120},{"g":"Yes","v":110},{"g":"Yes","v":100},
      {"g":"Yes","v":80},{"g":"Yes","v":70},{"g":"Yes","v":55},{"g":"Yes","v":45},{"g":"Yes","v":40},{"g":"Yes","v":30},{"g":"Yes","v":10}
    ],
    "pe": [
      {"g":"I","v":610},{"g":"I","v":440},{"g":"I","v":190},{"g":"I","v":180},{"g":"I","v":160},{"g":"I","v":130},{"g":"I","v":120},{"g":"I","v":115},{"g":"I","v":110},{"g":"I","v":100},
      {"g":"I","v":95},{"g":"I","v":90},{"g":"I","v":85},{"g":"I","v":82},{"g":"I","v":80},{"g":"I","v":75},{"g":"I","v":70},{"g":"I","v":65},{"g":"I","v":60},{"g":"I","v":55},
      {"g":"I","v":50},{"g":"I","v":45},{"g":"I","v":42},{"g":"I","v":40},{"g":"I","v":38},{"g":"I","v":35},{"g":"I","v":32},{"g":"I","v":30},{"g":"I","v":28},{"g":"I","v":25},
      {"g":"I","v":22},{"g":"I","v":20},{"g":"I","v":18},{"g":"I","v":15},{"g":"I","v":12},{"g":"I","v":10},{"g":"I","v":8},{"g":"I","v":6},{"g":"I","v":5},{"g":"I","v":3},
      {"g":"I","v":2},{"g":"I","v":0},
      {"g":"II","v":1000},{"g":"II","v":580},{"g":"II","v":520},{"g":"II","v":500},{"g":"II","v":470},{"g":"II","v":460},{"g":"II","v":450},{"g":"II","v":440},{"g":"II","v":430},{"g":"II","v":400},
      {"g":"II","v":350},{"g":"II","v":340},{"g":"II","v":330},{"g":"II","v":320},{"g":"II","v":300},{"g":"II","v":290},{"g":"II","v":270},{"g":"II","v":260},{"g":"II","v":250},{"g":"II","v":240},
      {"g":"II","v":230},{"g":"II","v":220},{"g":"II","v":210},{"g":"II","v":200},{"g":"II","v":190},{"g":"II","v":178},{"g":"II","v":175},{"g":"II","v":172},{"g":"II","v":170},{"g":"II","v":165},
      {"g":"II","v":160},{"g":"II","v":155},{"g":"II","v":150},{"g":"II","v":148},{"g":"II","v":145},{"g":"II","v":142},{"g":"II","v":140},{"g":"II","v":138},{"g":"II","v":135},{"g":"II","v":132},
      {"g":"II","v":130},{"g":"II","v":128},{"g":"II","v":125},{"g":"II","v":122},{"g":"II","v":120},{"g":"II","v":118},{"g":"II","v":115},{"g":"II","v":112},{"g":"II","v":110},{"g":"II","v":108},
      {"g":"II","v":105},{"g":"II","v":102},{"g":"II","v":100},{"g":"II","v":98},{"g":"II","v":96},{"g":"II","v":94},{"g":"II","v":92},{"g":"II","v":90},{"g":"II","v":88},{"g":"II","v":86},
      {"g":"II","v":84},{"g":"II","v":82},{"g":"II","v":80},{"g":"II","v":78},{"g":"II","v":76},{"g":"II","v":74},{"g":"II","v":72},{"g":"II","v":70},{"g":"II","v":66},{"g":"II","v":62},
      {"g":"II","v":58},{"g":"II","v":54},{"g":"II","v":50},{"g":"II","v":48},{"g":"II","v":45},{"g":"II","v":42},{"g":"II","v":40},{"g":"II","v":38},{"g":"II","v":35},{"g":"II","v":32},
      {"g":"II","v":30},{"g":"II","v":28},{"g":"II","v":26},{"g":"II","v":24},{"g":"II","v":22},{"g":"II","v":20},{"g":"II","v":18},{"g":"II","v":16},{"g":"II","v":14},{"g":"II","v":12},
      {"g":"II","v":10},{"g":"II","v":8},{"g":"II","v":6},{"g":"II","v":5},{"g":"II","v":4},{"g":"II","v":3},{"g":"II","v":2},{"g":"II","v":1},
      {"g":"III","v":1030},{"g":"III","v":1000},{"g":"III","v":930},{"g":"III","v":850},{"g":"III","v":820},{"g":"III","v":630},{"g":"III","v":370},{"g":"III","v":320},{"g":"III","v":170},{"g":"III","v":150},
      {"g":"III","v":100},{"g":"III","v":70},{"g":"III","v":10}
    ],
    "pf": [
      {"g":"BMPCs <60%","v":970},{"g":"BMPCs <60%","v":840},{"g":"BMPCs <60%","v":605},{"g":"BMPCs <60%","v":585},{"g":"BMPCs <60%","v":510},{"g":"BMPCs <60%","v":460},{"g":"BMPCs <60%","v":455},{"g":"BMPCs <60%","v":450},{"g":"BMPCs <60%","v":445},{"g":"BMPCs <60%","v":440},
      {"g":"BMPCs <60%","v":435},{"g":"BMPCs <60%","v":390},{"g":"BMPCs <60%","v":340},{"g":"BMPCs <60%","v":330},{"g":"BMPCs <60%","v":310},{"g":"BMPCs <60%","v":300},{"g":"BMPCs <60%","v":290},{"g":"BMPCs <60%","v":270},{"g":"BMPCs <60%","v":250},{"g":"BMPCs <60%","v":245},
      {"g":"BMPCs <60%","v":240},{"g":"BMPCs <60%","v":230},{"g":"BMPCs <60%","v":220},{"g":"BMPCs <60%","v":210},{"g":"BMPCs <60%","v":200},{"g":"BMPCs <60%","v":190},{"g":"BMPCs <60%","v":185},{"g":"BMPCs <60%","v":180},{"g":"BMPCs <60%","v":175},{"g":"BMPCs <60%","v":170},
      {"g":"BMPCs <60%","v":165},{"g":"BMPCs <60%","v":160},{"g":"BMPCs <60%","v":155},{"g":"BMPCs <60%","v":150},{"g":"BMPCs <60%","v":148},{"g":"BMPCs <60%","v":145},{"g":"BMPCs <60%","v":143},{"g":"BMPCs <60%","v":140},{"g":"BMPCs <60%","v":138},{"g":"BMPCs <60%","v":135},
      {"g":"BMPCs <60%","v":132},{"g":"BMPCs <60%","v":130},{"g":"BMPCs <60%","v":128},{"g":"BMPCs <60%","v":125},{"g":"BMPCs <60%","v":122},{"g":"BMPCs <60%","v":120},{"g":"BMPCs <60%","v":118},{"g":"BMPCs <60%","v":115},{"g":"BMPCs <60%","v":112},{"g":"BMPCs <60%","v":110},
      {"g":"BMPCs <60%","v":108},{"g":"BMPCs <60%","v":106},{"g":"BMPCs <60%","v":104},{"g":"BMPCs <60%","v":102},{"g":"BMPCs <60%","v":100},{"g":"BMPCs <60%","v":98},{"g":"BMPCs <60%","v":96},{"g":"BMPCs <60%","v":94},{"g":"BMPCs <60%","v":92},{"g":"BMPCs <60%","v":90},
      {"g":"BMPCs <60%","v":88},{"g":"BMPCs <60%","v":86},{"g":"BMPCs <60%","v":84},{"g":"BMPCs <60%","v":82},{"g":"BMPCs <60%","v":80},{"g":"BMPCs <60%","v":79},{"g":"BMPCs <60%","v":78},{"g":"BMPCs <60%","v":77},{"g":"BMPCs <60%","v":76},{"g":"BMPCs <60%","v":75},
      {"g":"BMPCs <60%","v":74},{"g":"BMPCs <60%","v":72},{"g":"BMPCs <60%","v":70},{"g":"BMPCs <60%","v":68},{"g":"BMPCs <60%","v":66},{"g":"BMPCs <60%","v":64},{"g":"BMPCs <60%","v":62},{"g":"BMPCs <60%","v":60},{"g":"BMPCs <60%","v":58},{"g":"BMPCs <60%","v":56},
      {"g":"BMPCs <60%","v":54},{"g":"BMPCs <60%","v":52},{"g":"BMPCs <60%","v":50},{"g":"BMPCs <60%","v":48},{"g":"BMPCs <60%","v":46},{"g":"BMPCs <60%","v":44},{"g":"BMPCs <60%","v":42},{"g":"BMPCs <60%","v":40},{"g":"BMPCs <60%","v":38},{"g":"BMPCs <60%","v":36},
      {"g":"BMPCs <60%","v":34},{"g":"BMPCs <60%","v":33},{"g":"BMPCs <60%","v":32},{"g":"BMPCs <60%","v":31},{"g":"BMPCs <60%","v":30},{"g":"BMPCs <60%","v":29},{"g":"BMPCs <60%","v":28},{"g":"BMPCs <60%","v":27},{"g":"BMPCs <60%","v":26},{"g":"BMPCs <60%","v":25},
      {"g":"BMPCs <60%","v":24},{"g":"BMPCs <60%","v":23},{"g":"BMPCs <60%","v":22},{"g":"BMPCs <60%","v":21},{"g":"BMPCs <60%","v":20},{"g":"BMPCs <60%","v":19},{"g":"BMPCs <60%","v":19},{"g":"BMPCs <60%","v":18},{"g":"BMPCs <60%","v":18},{"g":"BMPCs <60%","v":17},
      {"g":"BMPCs <60%","v":17},{"g":"BMPCs <60%","v":16},{"g":"BMPCs <60%","v":16},{"g":"BMPCs <60%","v":15},{"g":"BMPCs <60%","v":15},{"g":"BMPCs <60%","v":14},{"g":"BMPCs <60%","v":14},{"g":"BMPCs <60%","v":13},{"g":"BMPCs <60%","v":13},{"g":"BMPCs <60%","v":12},
      {"g":"BMPCs <60%","v":12},{"g":"BMPCs <60%","v":11},{"g":"BMPCs <60%","v":11},{"g":"BMPCs <60%","v":10},{"g":"BMPCs <60%","v":10},{"g":"BMPCs <60%","v":9},{"g":"BMPCs <60%","v":9},{"g":"BMPCs <60%","v":8},{"g":"BMPCs <60%","v":8},{"g":"BMPCs <60%","v":7},
      {"g":"BMPCs <60%","v":7},{"g":"BMPCs <60%","v":6},{"g":"BMPCs <60%","v":6},{"g":"BMPCs <60%","v":5},{"g":"BMPCs <60%","v":5},{"g":"BMPCs <60%","v":4},{"g":"BMPCs <60%","v":3},{"g":"BMPCs <60%","v":2},{"g":"BMPCs <60%","v":1},{"g":"BMPCs <60%","v":0},
      {"g":"BMPCs ≥60%","v":1020},{"g":"BMPCs ≥60%","v":1000},{"g":"BMPCs ≥60%","v":625},{"g":"BMPCs ≥60%","v":370},{"g":"BMPCs ≥60%","v":355},{"g":"BMPCs ≥60%","v":320},{"g":"BMPCs ≥60%","v":230},{"g":"BMPCs ≥60%","v":150},{"g":"BMPCs ≥60%","v":145},{"g":"BMPCs ≥60%","v":140},
      {"g":"BMPCs ≥60%","v":110},{"g":"BMPCs ≥60%","v":100},{"g":"BMPCs ≥60%","v":70},{"g":"BMPCs ≥60%","v":60},{"g":"BMPCs ≥60%","v":45},{"g":"BMPCs ≥60%","v":30},{"g":"BMPCs ≥60%","v":15}
    ],
    "pg": [
      {"g":"Low LDH","v":600},{"g":"Low LDH","v":300},{"g":"Low LDH","v":290},{"g":"Low LDH","v":270},{"g":"Low LDH","v":200},{"g":"Low LDH","v":180},{"g":"Low LDH","v":130},{"g":"Low LDH","v":100},{"g":"Low LDH","v":80},{"g":"Low LDH","v":60},
      {"g":"Low LDH","v":40},{"g":"Low LDH","v":30},{"g":"Low LDH","v":10},
      {"g":"Normal LDH","v":450},{"g":"Normal LDH","v":440},{"g":"Normal LDH","v":430},{"g":"Normal LDH","v":420},{"g":"Normal LDH","v":410},{"g":"Normal LDH","v":400},{"g":"Normal LDH","v":380},{"g":"Normal LDH","v":350},{"g":"Normal LDH","v":330},{"g":"Normal LDH","v":300},
      {"g":"Normal LDH","v":280},{"g":"Normal LDH","v":260},{"g":"Normal LDH","v":240},{"g":"Normal LDH","v":220},{"g":"Normal LDH","v":200},{"g":"Normal LDH","v":190},{"g":"Normal LDH","v":180},{"g":"Normal LDH","v":170},{"g":"Normal LDH","v":160},{"g":"Normal LDH","v":150},
      {"g":"Normal LDH","v":145},{"g":"Normal LDH","v":135},{"g":"Normal LDH","v":125},{"g":"Normal LDH","v":115},{"g":"Normal LDH","v":110},{"g":"Normal LDH","v":108},{"g":"Normal LDH","v":106},{"g":"Normal LDH","v":104},{"g":"Normal LDH","v":102},{"g":"Normal LDH","v":100},
      {"g":"Normal LDH","v":98},{"g":"Normal LDH","v":96},{"g":"Normal LDH","v":94},{"g":"Normal LDH","v":92},{"g":"Normal LDH","v":90},{"g":"Normal LDH","v":88},{"g":"Normal LDH","v":86},{"g":"Normal LDH","v":84},{"g":"Normal LDH","v":82},{"g":"Normal LDH","v":80},
      {"g":"Normal LDH","v":78},{"g":"Normal LDH","v":76},{"g":"Normal LDH","v":74},{"g":"Normal LDH","v":72},{"g":"Normal LDH","v":71},{"g":"Normal LDH","v":70},{"g":"Normal LDH","v":68},{"g":"Normal LDH","v":66},{"g":"Normal LDH","v":64},{"g":"Normal LDH","v":62},
      {"g":"Normal LDH","v":60},{"g":"Normal LDH","v":58},{"g":"Normal LDH","v":56},{"g":"Normal LDH","v":54},{"g":"Normal LDH","v":52},{"g":"Normal LDH","v":50},{"g":"Normal LDH","v":48},{"g":"Normal LDH","v":46},{"g":"Normal LDH","v":44},{"g":"Normal LDH","v":42},
      {"g":"Normal LDH","v":40},{"g":"Normal LDH","v":38},{"g":"Normal LDH","v":36},{"g":"Normal LDH","v":35},{"g":"Normal LDH","v":34},{"g":"Normal LDH","v":33},{"g":"Normal LDH","v":32},{"g":"Normal LDH","v":31},{"g":"Normal LDH","v":30},{"g":"Normal LDH","v":29},
      {"g":"Normal LDH","v":28},{"g":"Normal LDH","v":27},{"g":"Normal LDH","v":26},{"g":"Normal LDH","v":25},{"g":"Normal LDH","v":24},{"g":"Normal LDH","v":23},{"g":"Normal LDH","v":22},{"g":"Normal LDH","v":20},{"g":"Normal LDH","v":18},{"g":"Normal LDH","v":16},
      {"g":"Normal LDH","v":14},{"g":"Normal LDH","v":12},{"g":"Normal LDH","v":10},{"g":"Normal LDH","v":9},{"g":"Normal LDH","v":8},{"g":"Normal LDH","v":7},{"g":"Normal LDH","v":6},{"g":"Normal LDH","v":5},{"g":"Normal LDH","v":4},{"g":"Normal LDH","v":3},
      {"g":"Normal LDH","v":2},{"g":"Normal LDH","v":1},
      {"g":"High LDH","v":4600},{"g":"High LDH","v":1020},{"g":"High LDH","v":1000},{"g":"High LDH","v":960},{"g":"High LDH","v":830},{"g":"High LDH","v":810},{"g":"High LDH","v":800},{"g":"High LDH","v":640},{"g":"High LDH","v":600},{"g":"High LDH","v":500},
      {"g":"High LDH","v":480},{"g":"High LDH","v":450},{"g":"High LDH","v":420},{"g":"High LDH","v":380},{"g":"High LDH","v":340},{"g":"High LDH","v":300},{"g":"High LDH","v":280},{"g":"High LDH","v":260},{"g":"High LDH","v":250},{"g":"High LDH","v":240},
      {"g":"High LDH","v":230},{"g":"High LDH","v":220},{"g":"High LDH","v":200},{"g":"High LDH","v":180},{"g":"High LDH","v":160},{"g":"High LDH","v":150},{"g":"High LDH","v":140},{"g":"High LDH","v":130},{"g":"High LDH","v":120},{"g":"High LDH","v":110},
      {"g":"High LDH","v":105},{"g":"High LDH","v":100},{"g":"High LDH","v":98},{"g":"High LDH","v":95},{"g":"High LDH","v":90},{"g":"High LDH","v":85},{"g":"High LDH","v":80},{"g":"High LDH","v":75},{"g":"High LDH","v":70},{"g":"High LDH","v":65},
      {"g":"High LDH","v":60},{"g":"High LDH","v":55},{"g":"High LDH","v":50},{"g":"High LDH","v":45},{"g":"High LDH","v":40},{"g":"High LDH","v":35},{"g":"High LDH","v":30},{"g":"High LDH","v":25},{"g":"High LDH","v":20},{"g":"High LDH","v":15},
      {"g":"High LDH","v":12},{"g":"High LDH","v":10},{"g":"High LDH","v":8},{"g":"High LDH","v":6},{"g":"High LDH","v":4},{"g":"High LDH","v":2},{"g":"High LDH","v":0}
    ]
  },
  "config": {
    "view": {"stroke": null},
    "font": "Lato",
    "title": {"font": "Lato", "fontSize": 15, "fontWeight": "normal", "color": "#111", "lineHeight": 18.5},
    "axis": {"grid": false, "domainColor": "#222", "domainWidth": 1.5, "tickColor": "#222", "tickWidth": 1.2, "tickSize": 4, "labelColor": "#111", "titleColor": "#111", "titleFont": "Lato", "titleFontSize": 12.5, "titleFontWeight": "normal"},
    "axisX": {"labelFont": "Lato", "labelFontSize": 12, "labelPadding": 5, "labelAngle": 0},
    "axisY": {"labelFont": "Liberation Sans", "labelFontSize": 12.5, "labelPadding": 3}
  }
}
